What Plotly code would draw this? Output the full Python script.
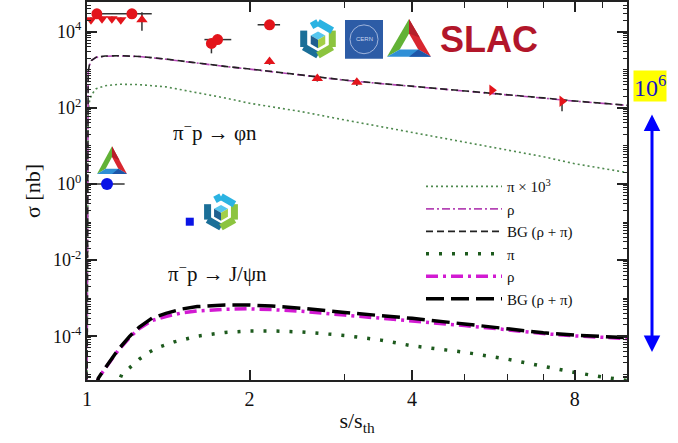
import plotly.graph_objects as go

# ---------------- theory curves: pi- p -> phi n ----------------
x_phi = [1.000001, 1.002, 1.005, 1.01, 1.02, 1.04, 1.08, 1.15, 1.25, 1.4, 1.6,
         1.8, 2.0, 2.5, 3.0, 3.5, 4.0, 5.0, 6.0, 7.0, 8.0, 9.0, 10.0]
phi_pi_x1e3 = [1e-6, 25, 79, 141, 224, 316, 380, 417, 407, 355, 251,
               182, 132, 79, 48, 32, 22, 12.6, 7.9, 5.2, 3.4, 2.6, 2.0]
phi_rho = [1e-6, 395, 880, 1300, 1760, 2120, 2270, 2320, 2220, 1890, 1470,
           1220, 1040, 717, 532, 433, 368, 279, 222, 180, 150, 131, 116]
phi_bg = [1e-6, 400, 890, 1320, 1780, 2140, 2290, 2340, 2240, 1910, 1480,
          1230, 1050, 724, 537, 437, 372, 282, 224, 182, 151, 132, 117]

# ---------------- theory curves: pi- p -> J/psi n ----------------
x_jpsi = [1.035, 1.05, 1.07, 1.1, 1.14, 1.2, 1.25, 1.32, 1.4, 1.5, 1.6, 1.8,
          2.0, 2.2, 2.5, 3.0, 3.5, 4.0, 5.0, 6.0, 7.0, 8.0, 9.0, 10.0]
jpsi_bg = [4e-6, 8e-6, 1.2e-5, 2.1e-5, 4.3e-5, 1.0e-4, 1.74e-4, 3.0e-4, 4.0e-4,
           5.2e-4, 6.0e-4, 6.6e-4, 6.6e-4, 6.2e-4, 5.4e-4, 4.2e-4, 3.5e-4,
           2.95e-4, 2.1e-4, 1.58e-4, 1.23e-4, 1.07e-4, 9.8e-5, 9.1e-5]
jpsi_rho = [4e-6, 7.8e-6, 1.17e-5, 2.0e-5, 4.1e-5, 9.4e-5, 1.6e-4, 2.6e-4, 3.3e-4,
            4.1e-4, 4.6e-4, 5.1e-4, 5.25e-4, 5.0e-4, 4.5e-4, 3.6e-4, 3.0e-4,
            2.6e-4, 1.9e-4, 1.48e-4, 1.17e-4, 1.02e-4, 9.3e-5, 8.7e-5]
x_jpsi_pi = [1.13, 1.16, 1.2, 1.25, 1.3, 1.35, 1.45, 1.6, 1.8, 2.0, 2.2, 2.5,
             3.0, 3.5, 4.0, 5.0, 6.0, 7.0, 8.0, 9.0, 10.0]
jpsi_pi = [4e-6, 1.0e-5, 1.5e-5, 2.5e-5, 3.7e-5, 5.0e-5, 7.1e-5, 1.0e-4, 1.26e-4,
           1.38e-4, 1.38e-4, 1.29e-4, 1.05e-4, 7.9e-5, 5.6e-5, 3.8e-5, 2.5e-5,
           1.6e-5, 1.12e-5, 8.5e-6, 6.9e-6]

# ---------------- phi production data ----------------
circ_x = [1.043, 1.211, 1.70, 1.745, 2.178]
circ_y = [2.95e4, 2.95e4, 4.9e3, 6.2e3, 1.52e4]
circ_xerr_lo = [0, 0.154, 0, 0.095, 0.108]
circ_xerr_hi = [0, 0.107, 0, 0.105, 0.10]
circ_yerr_lo = [0, 0, 2.2e3, 0, 0]

down_x = [1.017, 1.066, 1.112, 1.155]
down_y = [2.06e4, 2.2e4, 2.2e4, 2.06e4]
down_yerr = [3e3, 3e3, 3e3, 3e3]

up_x = [1.264, 2.178, 2.67, 3.16]
up_y = [2.06e4, 1.65e3, 590, 467]
up_yerr_hi = [1.2e4, 0, 60, 50]
up_yerr_lo = [1.0e4, 300, 100, 90]

right_x = [5.62, 7.58]
right_y = [288, 148]
right_yerr_hi = [20, 20]
right_yerr_lo = [40, 67]

# ---------------- J/psi point ----------------
blue_circ_x = [1.089]
blue_circ_y = [1.0]
blue_circ_xerr = [0.085]
blue_sq_x = [1.55]
blue_sq_y = [0.102]

SERIF = "'Liberation Serif', 'Times New Roman', Times, serif"
SANS = "'Liberation Sans', Arial, sans-serif"
RED = "#e3141b"
ERR = "#333333"

fig = go.Figure()

# legend entries (drawn first)
fig.add_trace(go.Scatter(x=x_phi, y=phi_pi_x1e3, mode="lines", name="π × 10<sup>3</sup>",
                         line=dict(color="#4f8a4f", width=1.6, dash="2px,3px")))
fig.add_trace(go.Scatter(x=x_phi, y=phi_rho, mode="lines", name="ρ",
                         line=dict(color="#b545b5", width=1.6, dash="8px,3px,2px,3px")))
fig.add_trace(go.Scatter(x=x_phi, y=phi_bg, mode="lines", name="BG (ρ + π)",
                         line=dict(color="#222222", width=1.6, dash="7px,4px")))
fig.add_trace(go.Scatter(x=x_jpsi_pi, y=jpsi_pi, mode="lines", name="π",
                         line=dict(color="#1d5a1d", width=3.5, dash="3px,10px")))
fig.add_trace(go.Scatter(x=x_jpsi, y=jpsi_rho, mode="lines", name="ρ",
                         line=dict(color="#d21ad2", width=3.5, dash="12px,5px,3px,5px")))
fig.add_trace(go.Scatter(x=x_jpsi, y=jpsi_bg, mode="lines", name="BG (ρ + π)",
                         line=dict(color="#000000", width=3.5, dash="18px,7px")))

# data points
fig.add_trace(go.Scatter(x=down_x, y=down_y, mode="markers", showlegend=False,
                         marker=dict(symbol="triangle-down", size=10, color=RED),
                         error_y=dict(type="data", array=down_yerr, color=ERR, thickness=1.5, width=0)))
fig.add_trace(go.Scatter(x=up_x, y=up_y, mode="markers", showlegend=False,
                         marker=dict(symbol="triangle-up", size=10, color=RED),
                         error_y=dict(type="data", array=up_yerr_hi, arrayminus=up_yerr_lo,
                                      color=ERR, thickness=1.5, width=0)))
fig.add_trace(go.Scatter(x=right_x, y=right_y, mode="markers", showlegend=False,
                         marker=dict(symbol="triangle-right", size=10, color=RED),
                         error_y=dict(type="data", array=right_yerr_hi, arrayminus=right_yerr_lo,
                                      color=ERR, thickness=1.5, width=0)))
fig.add_trace(go.Scatter(x=circ_x, y=circ_y, mode="markers", showlegend=False,
                         marker=dict(symbol="circle", size=11, color=RED),
                         error_x=dict(type="data", array=circ_xerr_hi, arrayminus=circ_xerr_lo,
                                      color=ERR, thickness=1.5, width=0),
                         error_y=dict(type="data", array=[0] * len(circ_x), arrayminus=circ_yerr_lo,
                                      color=ERR, thickness=1.5, width=0)))
fig.add_trace(go.Scatter(x=blue_circ_x, y=blue_circ_y, mode="markers", showlegend=False,
                         marker=dict(symbol="circle", size=12, color="#0a14e6"),
                         error_x=dict(type="data", array=blue_circ_xerr, color=ERR, thickness=1.5, width=0)))
fig.add_trace(go.Scatter(x=blue_sq_x, y=blue_sq_y, mode="markers", showlegend=False,
                         marker=dict(symbol="square", size=8, color="#0a14e6")))

# ---------------- layout helpers (pixel -> paper) ----------------
L, R, T, B = 87, 627, 0, 380


def px(xp):
    return (xp - L) / (R - L)


def py(yp):
    return (B - yp) / (B - T)


def poly(points, fill, line=None, width=0):
    d = "M " + " L ".join(f"{px(a):.5f},{py(b):.5f}" for a, b in points) + " Z"
    return dict(type="path", xref="paper", yref="paper", path=d, fillcolor=fill,
                line=dict(color=line or fill, width=width), layer="above")


def seg(p0, p1, color, width):
    return dict(type="line", xref="paper", yref="paper", x0=px(p0[0]), y0=py(p0[1]),
                x1=px(p1[0]), y1=py(p1[1]), line=dict(color=color, width=width), layer="above")


shapes = []


def hex_logo(cx, cy, r):
    c, s = 0.866, 0.5
    rr = r - 3.5
    top = (cx, cy - rr)
    ur = (cx + c * rr, cy - s * rr)
    lr = (cx + c * rr, cy + s * rr)
    bot = (cx, cy + rr)
    ll = (cx - c * rr, cy + s * rr)
    ul = (cx - c * rr, cy - s * rr)
    w = 7
    shapes.append(seg(ul, (ul[0], ll[1]), "#1b6f98", w))
    shapes.append(seg(ll, bot, "#1b6f98", w))
    shapes.append(seg(bot, lr, "#8cc43f", w))
    shapes.append(seg(lr, ur, "#8cc43f", w))
    shapes.append(seg(ur, top, "#2bb3e2", w))
    shapes.append(seg(top, (cx - 0.45 * c * rr, cy - 0.78 * rr), "#2bb3e2", w))
    k = 0.42 * r
    ctr = (cx, cy + 0.05 * r)
    t = (ctr[0], ctr[1] - k)
    a_ur = (ctr[0] + c * k, ctr[1] - s * k)
    a_lr = (ctr[0] + c * k, ctr[1] + s * k)
    b = (ctr[0], ctr[1] + k)
    a_ll = (ctr[0] - c * k, ctr[1] + s * k)
    a_ul = (ctr[0] - c * k, ctr[1] - s * k)
    shapes.append(poly([t, a_ur, ctr, a_ul], "#55c6ee"))
    shapes.append(poly([ctr, a_ur, a_lr, b], "#a3cf48"))
    shapes.append(poly([ctr, b, a_ll, a_ul], "#1f5f8f"))


def tri_logo(x0, x1, ytop, ybot, scale=0.42):
    apex = ((x0 + x1) / 2, ytop)
    bl = (x0, ybot)
    br = (x1, ybot)
    gx = (apex[0] + bl[0] + br[0]) / 3
    gy = (apex[1] + bl[1] + br[1]) / 3

    def inner(p):
        return (gx + scale * (p[0] - gx), gy + scale * (p[1] - gy))

    ia, ibl, ibr = inner(apex), inner(bl), inner(br)
    shapes.append(poly([apex, bl, ibl, ia], "#62b236"))
    shapes.append(poly([apex, br, ibr, ia], "#d8262f"))
    shapes.append(poly([bl, br, ibr, ibl], "#2f8fd6"))
    shapes.append(poly([((bl[0] + br[0]) / 2, ybot), br, ibr], "#1e56a8"))
    shapes.append(poly([apex, ((apex[0] + br[0]) / 2, (apex[1] + br[1]) / 2), ia], "#b51f2a"))


hex_logo(318, 37, 20)
hex_logo(221, 211, 19)
tri_logo(387, 431, 17, 55)
tri_logo(97, 127, 145, 173)

# CERN badge
shapes.append(dict(type="rect", xref="paper", yref="paper", x0=px(345), x1=px(383),
                   y0=py(57), y1=py(18), fillcolor="#2d5ca6", line=dict(width=0), layer="above"))
shapes.append(dict(type="circle", xref="paper", yref="paper", x0=px(350), x1=px(378),
                   y0=py(52), y1=py(23), line=dict(color="#9fb4dc", width=1), layer="above"))


def label(text, xp, yp, size, family=SERIF, color="#111111", **kw):
    return dict(text=text, xref="paper", yref="paper", x=px(xp), y=py(yp),
                xanchor="center", yanchor="middle", showarrow=False,
                font=dict(family=family, size=size, color=color), **kw)


annotations = [
    label("CERN", 364, 37, 6, family=SANS, color="#c9d5ee"),
    label("<b>SLAC</b>", 489, 38, 36, family=SANS, color="#b2162a"),
    label("π<sup>−</sup>p → φn", 215, 130, 21),
    label("π<sup>−</sup>p → J/ψn", 217, 272, 21),
    label("10<sup>6</sup>", 650, 84, 24, color="#1414c8", bgcolor="#ffff00", borderpad=0),
    dict(text="", xref="paper", yref="paper", x=px(652), y=py(113), ax=0, ay=239,
         showarrow=True, arrowside="end+start", arrowhead=2, arrowsize=1.1,
         arrowwidth=3, arrowcolor="#0000ff"),
]

# minor tick positions on the log y axis
y_minor = [k * 10.0 ** n for n in range(-6, 5) for k in range(1, 10)]

fig.update_layout(
    width=678, height=443,
    margin=dict(l=L, r=678 - R, t=T, b=443 - B),
    paper_bgcolor="white", plot_bgcolor="white",
    font=dict(family=SERIF, size=18, color="#111111"),
    showlegend=True,
    legend=dict(x=px(421), y=py(169), xanchor="left", yanchor="top",
                bgcolor="rgba(0,0,0,0)", font=dict(family=SERIF, size=15, color="#111111"),
                itemwidth=76, tracegroupgap=0),
    shapes=shapes,
    annotations=annotations,
    xaxis=dict(type="log", range=[0, 1], showgrid=False, zeroline=False,
               showline=True, linecolor="#222222", linewidth=2, mirror="ticks",
               ticks="inside", ticklen=10, tickwidth=1.5, tickcolor="#222222",
               tickmode="array", tickvals=[1, 2, 4, 8], ticktext=["1", "2", "4", "8"],
               tickfont=dict(family=SERIF, size=20),
               minor=dict(tickmode="array", tickvals=[3, 5, 6, 7, 9], ticks="inside",
                          ticklen=6, tickwidth=1.2, tickcolor="#222222", showgrid=False),
               title=dict(text="s/s<sub>th</sub>", font=dict(family=SERIF, size=22), standoff=4)),
    yaxis=dict(type="log", range=[-5.15, 4.78], showgrid=False, zeroline=False,
               showline=True, linecolor="#222222", linewidth=2, mirror="ticks",
               ticks="inside", ticklen=10, tickwidth=1.5, tickcolor="#222222",
               tickmode="array", tickvals=[1e-4, 1e-2, 1, 1e2, 1e4],
               ticktext=["10<sup>-4</sup>", "10<sup>-2</sup>", "10<sup>0</sup>",
                         "10<sup>2</sup>", "10<sup>4</sup>"],
               tickfont=dict(family=SERIF, size=18),
               minor=dict(tickmode="array", tickvals=y_minor, ticks="inside",
                          ticklen=4, tickwidth=1, tickcolor="#222222", showgrid=False),
               title=dict(text="σ [nb]", font=dict(family=SERIF, size=22), standoff=6)),
)

fig.write_html("out.html")
